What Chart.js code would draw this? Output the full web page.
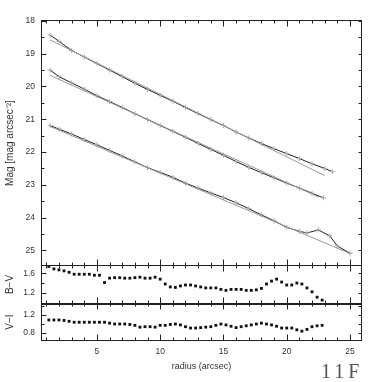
<!DOCTYPE html>
<html>
<head>
<meta charset="utf-8">
<script src="https://cdn.jsdelivr.net/npm/chart.js@4.4.1/dist/chart.umd.min.js"></script>
<style>
  html, body { margin: 0; padding: 0; background: #fff; }
  #wrap { position: relative; width: 382px; height: 382px; overflow: hidden; }
  canvas { position: absolute; left: 0; }
  #c1 { top: 0; }
  #c2 { top: 265px; }
  #c3 { top: 303px; }
  #tag { position: absolute; left: 321px; top: 360px; font: 20px "Liberation Serif", serif; letter-spacing: 4px; color: #555; }
</style>
</head>
<body>
<div id="wrap">
  <canvas id="c1" width="382" height="266"></canvas>
  <canvas id="c2" width="382" height="39"></canvas>
  <canvas id="c3" width="382" height="79"></canvas>
  <div id="tag">11F</div>
</div>
<script>
// surface brightness profiles (radius in arcsec, mag/arcsec^2)
const r1 = [1.3, 2, 3, 4, 5, 6, 7, 8, 9, 10, 11, 12, 13, 14, 15, 16, 17, 18, 19, 20, 21, 22, 23, 23.6];
const mag1 = [18.43, 18.62, 18.90, 19.10, 19.30, 19.50, 19.70, 19.90, 20.09, 20.27, 20.45, 20.64, 20.83, 21.01, 21.19, 21.39, 21.57, 21.74, 21.90, 22.05, 22.20, 22.36, 22.50, 22.60];
const fitR1 = [1.3, 23.0];
const fitMag1 = [18.58, 22.72];

const r2 = [1.3, 2, 3, 4, 5, 6, 7, 8, 9, 10, 11, 12, 13, 14, 15, 16, 17, 18, 19, 20, 21, 22, 22.9];
const mag2 = [19.50, 19.70, 19.89, 20.08, 20.28, 20.46, 20.64, 20.83, 21.01, 21.19, 21.37, 21.55, 21.74, 21.92, 22.10, 22.29, 22.47, 22.63, 22.79, 22.95, 23.10, 23.26, 23.40];
const fitR2 = [1.3, 22.5];
const fitMag2 = [19.66, 23.37];

const r3 = [1.3, 2, 3, 4, 5, 6, 7, 8, 9, 10, 11, 12, 13, 14, 15, 16, 17, 18, 19, 20, 21, 21.6, 22.5, 23.4, 24, 25];
const mag3 = [21.19, 21.30, 21.45, 21.62, 21.78, 21.95, 22.12, 22.30, 22.48, 22.62, 22.77, 22.95, 23.10, 23.25, 23.39, 23.55, 23.73, 23.92, 24.10, 24.30, 24.42, 24.47, 24.38, 24.56, 24.87, 25.09];
const fitR3 = [1.3, 25.0];
const fitMag3 = [21.22, 25.10];

// colour profiles
const cr = [1.2, 1.6, 2.0, 2.4, 2.8, 3.2, 3.6, 4.0, 4.4, 4.8, 5.2, 5.6, 6.0, 6.4, 6.8, 7.2, 7.6, 8.0, 8.4, 8.8,
  9.2, 9.6, 10.0, 10.4, 10.8, 11.2, 11.6, 12.0, 12.4, 12.8, 13.2, 13.6, 14.0, 14.4, 14.8, 15.2, 15.6, 16.0, 16.4, 16.8,
  17.2, 17.6, 18.0, 18.4, 18.8, 19.2, 19.6, 20.0, 20.4, 20.8, 21.2, 21.6, 22.0, 22.4, 22.8];
const bv = [1.74, 1.69, 1.67, 1.65, 1.62, 1.58, 1.58, 1.58, 1.58, 1.56, 1.56, 1.41, 1.50, 1.51, 1.51, 1.50, 1.50, 1.51, 1.52, 1.50,
  1.50, 1.52, 1.48, 1.38, 1.32, 1.31, 1.34, 1.36, 1.36, 1.34, 1.32, 1.30, 1.30, 1.30, 1.27, 1.25, 1.27, 1.27, 1.27, 1.25,
  1.25, 1.26, 1.29, 1.38, 1.44, 1.48, 1.42, 1.36, 1.36, 1.40, 1.38, 1.30, 1.22, 1.11, 1.05];
const vi = [1.09, 1.09, 1.09, 1.08, 1.06, 1.04, 1.04, 1.04, 1.04, 1.04, 1.04, 1.04, 1.02, 1.00, 1.00, 1.00, 0.99, 0.97, 0.93, 0.94,
  0.94, 0.93, 0.97, 0.97, 0.99, 1.00, 0.98, 0.94, 0.91, 0.91, 0.92, 0.93, 0.94, 0.97, 1.00, 0.98, 0.95, 0.92, 0.94, 0.96,
  0.98, 1.00, 1.02, 1.00, 0.98, 0.95, 0.91, 0.91, 0.91, 0.87, 0.84, 0.88, 0.94, 0.96, 0.97];

// tick labels
const xTicks = [5, 10, 15, 20, 25];
const magTicks = [18, 19, 20, 21, 22, 23, 24, 25];
const bvTicks = [1.2, 1.6];
const viTicks = [0.8, 1.2];

const pts = (xs, ys) => xs.map((v, i) => ({ x: v, y: ys[i] }));

Chart.defaults.font.family = '"Liberation Sans", Arial, sans-serif';
Chart.defaults.font.size = 8;
Chart.defaults.color = '#333';

// frame + inward ticks on all four sides
const framePlugin = {
  id: 'frame',
  afterDraw(chart, args, opts) {
    const { ctx, chartArea: a, scales: { x, y } } = chart;
    const L = Math.round(a.left) + 0.5, R = Math.round(a.right) - 0.5;
    const T = Math.round(a.top) + 0.5, B = Math.round(a.bottom) - 0.5;
    ctx.save();
    ctx.strokeStyle = '#222';
    ctx.lineWidth = 1;
    ctx.strokeRect(L, T, R - L, B - T);
    ctx.beginPath();
    for (let v = 1; v <= 25; v++) {
      const px = Math.round(x.getPixelForValue(v)) + 0.5;
      const len = v % 5 === 0 ? 6 : 3;
      ctx.moveTo(px, T); ctx.lineTo(px, T + len);
      ctx.moveTo(px, B); ctx.lineTo(px, B - len);
    }
    for (let v = opts.from; v <= opts.to + 1e-6; v += opts.step) {
      const py = Math.round(y.getPixelForValue(v)) + 0.5;
      const major = opts.major.some(m => Math.abs(m - v) < 1e-6);
      const len = major ? 5 : 3;
      ctx.moveTo(L, py); ctx.lineTo(L + len, py);
      ctx.moveTo(R, py); ctx.lineTo(R - 3, py);
    }
    ctx.stroke();
    if (opts.thickTop) {
      ctx.beginPath();
      ctx.moveTo(L, T + 1); ctx.lineTo(R, T + 1);
      ctx.stroke();
    }
    ctx.restore();
  }
};

function yAxis(min, max, ticks, title, reverse) {
  return {
    reverse: !!reverse, min: min, max: max,
    afterFit(s) { s.width = 41; s.paddingTop = 0; s.paddingBottom = 0; },
    afterBuildTicks(s) { s.ticks = ticks.map(v => ({ value: v })); },
    grid: { display: false, drawTicks: false },
    border: { display: false },
    ticks: { padding: 6, color: '#333', font: { size: 8.5 } },
    title: { display: true, text: title, padding: { top: 4, bottom: 0 }, font: { size: 10 }, color: '#333' }
  };
}

const hiddenX = { type: 'linear', display: false, min: 0.58, max: 25.95 };

const base = {
  responsive: false,
  animation: false,
  events: [],
  plugins: { legend: { display: false }, tooltip: { enabled: false } }
};

// top panel: magnitude profiles
new Chart(document.getElementById('c1'), {
  type: 'line',
  data: {
    datasets: [
      { data: pts(fitR1, fitMag1), borderColor: '#9a9a9a', borderWidth: 1, pointRadius: 0 },
      { data: pts(r1, mag1), borderColor: '#222', borderWidth: 1, pointStyle: 'cross', pointRadius: 2.5, pointBorderColor: '#aaa', pointBorderWidth: 1 },
      { data: pts(fitR2, fitMag2), borderColor: '#9a9a9a', borderWidth: 1, pointRadius: 0 },
      { data: pts(r2, mag2), borderColor: '#222', borderWidth: 1, pointStyle: 'cross', pointRadius: 2.5, pointBorderColor: '#aaa', pointBorderWidth: 1 },
      { data: pts(fitR3, fitMag3), borderColor: '#9a9a9a', borderWidth: 1, pointRadius: 0 },
      { data: pts(r3, mag3), borderColor: '#222', borderWidth: 1, pointStyle: 'cross', pointRadius: 2.5, pointBorderColor: '#aaa', pointBorderWidth: 1 }
    ]
  },
  options: Object.assign({}, base, {
    layout: { autoPadding: false, padding: { top: 20, right: 20, bottom: 0, left: 0 } },
    scales: { x: hiddenX, y: yAxis(17.97, 25.48, magTicks, 'Mag [mag arcsec⁻²]', true) },
    plugins: Object.assign({}, base.plugins, { frame: { from: 18, to: 25, step: 0.5, major: magTicks } })
  }),
  plugins: [framePlugin]
});

// B-V panel
new Chart(document.getElementById('c2'), {
  type: 'line',
  data: {
    datasets: [{ data: pts(cr, bv), showLine: false, pointStyle: 'rect', pointRadius: 2, pointBackgroundColor: '#111', pointBorderWidth: 0 }]
  },
  options: Object.assign({}, base, {
    layout: { autoPadding: false, padding: { top: 0, right: 20, bottom: 0, left: 0 } },
    scales: { x: hiddenX, y: yAxis(0.97, 1.77, bvTicks, 'B−V') },
    plugins: Object.assign({}, base.plugins, { frame: { from: 1.0, to: 1.6, step: 0.2, major: bvTicks } })
  }),
  plugins: [framePlugin]
});

// V-I panel with the radius axis
new Chart(document.getElementById('c3'), {
  type: 'line',
  data: {
    datasets: [{ data: pts(cr, vi), showLine: false, pointStyle: 'rect', pointRadius: 2, pointBackgroundColor: '#111', pointBorderWidth: 0 }]
  },
  options: Object.assign({}, base, {
    layout: { autoPadding: false, padding: { top: 0, right: 20, bottom: 0, left: 0 } },
    scales: {
      x: {
        type: 'linear', min: 0.58, max: 25.95,
        afterFit(s) { s.height = 41; s.paddingLeft = 0; s.paddingRight = 0; },
        afterBuildTicks(s) { s.ticks = xTicks.map(v => ({ value: v })); },
        grid: { display: false, drawTicks: false },
        border: { display: false },
        ticks: { padding: 6, maxRotation: 0, color: '#333', font: { size: 8.5 } },
        title: { display: true, text: 'radius (arcsec)', padding: { top: 0, bottom: 10 }, font: { size: 9 }, color: '#333' }
      },
      y: yAxis(0.62, 1.47, viTicks, 'V−I')
    },
    plugins: Object.assign({}, base.plugins, { frame: { from: 0.8, to: 1.4, step: 0.2, major: viTicks, thickTop: true } })
  }),
  plugins: [framePlugin]
});
</script>
</body>
</html>
